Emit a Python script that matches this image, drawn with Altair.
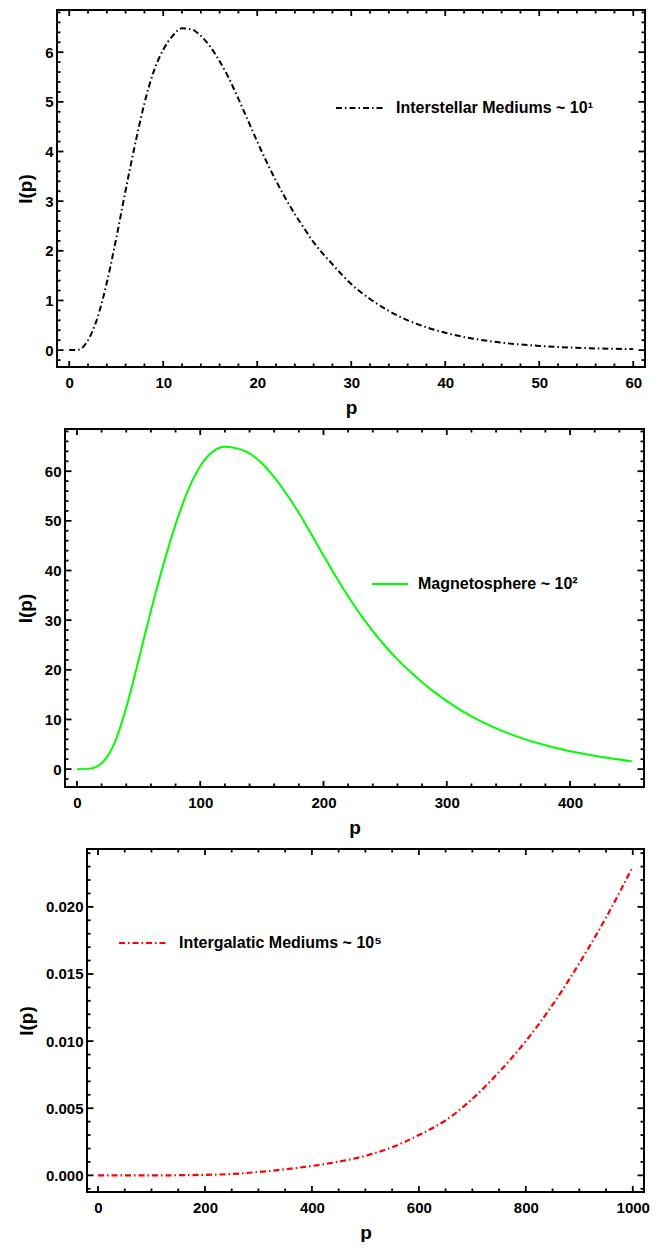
import altair as alt
import pandas as pd

FONT = "Liberation Sans"

# ---- Panel 1: Interstellar Mediums ----
p1 = [0, 1, 2, 3, 4, 5, 6, 7, 8, 9, 10, 11, 12, 13, 14, 15, 16, 17, 18, 19, 20,
      21, 22, 23, 24, 25, 26, 27, 28, 29, 30, 32, 34, 36, 38, 40, 43, 46, 50, 55, 60]
I1 = [0.0, 0.01, 0.2, 0.65, 1.36, 2.25, 3.22, 4.14, 4.97, 5.62, 6.05, 6.33, 6.48,
      6.46, 6.33, 6.11, 5.82, 5.47, 5.06, 4.63, 4.2, 3.79, 3.41, 3.06, 2.74, 2.45,
      2.17, 1.94, 1.73, 1.52, 1.33, 1.03, 0.79, 0.6, 0.46, 0.35, 0.23, 0.15, 0.085,
      0.04, 0.02]

# ---- Panel 2: Magnetosphere ----
p2 = [0, 10, 20, 30, 40, 50, 60, 70, 80, 90, 100, 110, 120, 130, 140, 150, 160,
      170, 180, 190, 200, 210, 220, 230, 240, 250, 260, 270, 280, 290, 300, 320,
      340, 360, 380, 400, 425, 450]
I2 = [0.0, 0.1, 1.2, 5.0, 12.4, 22.0, 31.9, 41.1, 49.3, 56.1, 61.0, 63.9, 64.95,
      64.6, 63.6, 61.6, 58.8, 55.4, 51.6, 47.4, 43.0, 38.8, 34.8, 31.1, 27.8, 24.8,
      22.1, 19.7, 17.5, 15.5, 13.7, 10.6, 8.2, 6.3, 4.8, 3.6, 2.5, 1.6]

# ---- Panel 3: Intergalatic Mediums ----
p3 = [0, 100, 200, 250, 300, 350, 400, 450, 500, 550, 600, 650, 700, 750, 800,
      850, 900, 950, 1000]
I3 = [0.0, 0.0, 0.00004, 0.0001, 0.00025, 0.00045, 0.0007, 0.00102, 0.00145,
      0.0021, 0.003, 0.0041, 0.0057, 0.0077, 0.0100, 0.0127, 0.0158, 0.0192, 0.023]

# tick values
x1_major = [0, 10, 20, 30, 40, 50, 60]
y1_major = [0, 1, 2, 3, 4, 5, 6]
x2_major = [0, 100, 200, 300, 400]
y2_major = [0, 10, 20, 30, 40, 50, 60]
x3_major = [0, 200, 400, 600, 800, 1000]
y3_major = [0.0, 0.005, 0.010, 0.015, 0.020]


def minors(start, stop, step, majors):
    out = []
    n = int(round((stop - start) / step))
    for k in range(n + 1):
        v = round(start + k * step, 6)
        if all(abs(v - m) > step * 0.01 for m in majors):
            out.append(v)
    return out


x1_minor = minors(0, 60, 2, x1_major)
y1_minor = minors(-0.2, 6.8, 0.2, y1_major)
x2_minor = minors(0, 440, 20, x2_major)
y2_minor = minors(-2, 68, 2, y2_major)
x3_minor = minors(0, 1000, 50, x3_major)
y3_minor = minors(-0.001, 0.024, 0.001, y3_major)

GW = 588          # group width shared by all panels
TICK_W = 1.8


def panel(p, I, xdom, ydom, r0, H, xmaj, xmin, ymaj, ymin, yfmt, color, dash,
          lw, leg, label):
    r1 = GW - 1 if r0 > 0 else GW
    xs = alt.Scale(domain=xdom, range=[r0, r1], nice=False, zero=False)
    ys = alt.Scale(domain=ydom, nice=False, zero=False)
    df = pd.DataFrame({"p": p, "I": I})
    mk = dict(color=color, strokeWidth=lw, interpolate="monotone")
    if dash:
        mk["strokeDash"] = dash
    yax = dict(values=ymaj, title="I(p)", format=yfmt)
    if r0 > 0:
        yax["offset"] = {"expr": str(-r0)}
    line = alt.Chart(df).mark_line(**mk).encode(
        x=alt.X("p:Q", scale=xs,
                axis=alt.Axis(values=xmaj, title="p", format="d")),
        y=alt.Y("I:Q", scale=ys, axis=alt.Axis(**yax)),
    )
    layers = [line]
    for vals, L in [(xmaj, 6), (xmin, 3.5)]:
        d = pd.DataFrame({"p": vals})
        base = alt.Chart(d).mark_rule(color="black", strokeWidth=TICK_W)
        xe = alt.X("p:Q", scale=xs)
        layers.append(base.encode(x=xe, y=alt.value(H), y2=alt.value(H - L)))
        layers.append(base.encode(x=xe, y=alt.value(0), y2=alt.value(L)))
    for vals, L in [(ymaj, 6.5), (ymin, 3.5)]:
        d = pd.DataFrame({"I": vals})
        base = alt.Chart(d).mark_rule(color="black", strokeWidth=TICK_W)
        ye = alt.Y("I:Q", scale=ys)
        layers.append(base.encode(y=ye, x=alt.value(r0), x2=alt.value(r0 + L)))
        layers.append(base.encode(y=ye, x=alt.value(r1), x2=alt.value(r1 - L)))
    one = pd.DataFrame({"k": [0]})
    fr = alt.Chart(one).mark_rule(color="black", strokeWidth=2)
    layers += [
        fr.encode(x=alt.value(r0), y=alt.value(0), y2=alt.value(H)),
        fr.encode(x=alt.value(r1), y=alt.value(0), y2=alt.value(H)),
        fr.encode(y=alt.value(0), x=alt.value(r0 - 1), x2=alt.value(r1 + 1)),
        fr.encode(y=alt.value(H), x=alt.value(r0 - 1), x2=alt.value(r1 + 1)),
    ]
    lx1, lx2, ly, tx = leg
    rk = dict(color=color, strokeWidth=lw)
    if dash:
        rk["strokeDash"] = dash
    layers.append(alt.Chart(one).mark_rule(**rk).encode(
        x=alt.value(lx1), x2=alt.value(lx2), y=alt.value(ly)))
    layers.append(alt.Chart(one).mark_text(
        align="left", baseline="middle", font=FONT, fontWeight="bold",
        fontSize=16, color="black").encode(
        x=alt.value(tx), y=alt.value(ly), text=alt.value(label)))
    return alt.layer(*layers).properties(width=GW, height=H)


DASH = [6, 3, 1.5, 3]

c1 = panel(p1, I1, [-1.3, 61.25], [-0.34, 6.85], 0, 357,
           x1_major, x1_minor, y1_major, y1_minor, "d", "black", DASH, 2,
           (279, 326, 98, 339), "Interstellar Mediums ~ 10\u00b9")
c2 = panel(p2, I2, [-9.7, 460], [-3.6, 68.5], 8, 358,
           x2_major, x2_minor, y2_major, y2_minor, "d", "#00ff00", None, 2,
           (315, 351, 155, 361), "Magnetosphere ~ 10\u00b2")
c3 = panel(p3, I3, [-20.6, 1021], [-0.00124, 0.02431], 30, 343,
           x3_major, x3_minor, y3_major, y3_minor, ".3f", "#ff0000", DASH, 2.2,
           (62, 109, 94, 122), "Intergalatic Mediums ~ 10\u2075")

chart = alt.vconcat(c1, c2, c3, spacing=11).properties(
    padding={"left": 8, "top": 1, "right": 5, "bottom": 0},
).configure_view(
    stroke="transparent", strokeWidth=0
).configure_axis(
    labelFont=FONT, titleFont=FONT, labelFontWeight="bold",
    titleFontWeight="bold", labelFontSize=15, titleFontSize=19,
    labelColor="black", titleColor="black", ticks=False, domain=False,
    grid=False, minExtent=0, labelFlush=False,
).configure_axisX(labelPadding=8, titlePadding=8).configure_axisY(
    labelPadding=4, titlePadding=9)

chart.save("out.html", embed_options={"renderer": "svg", "actions": False})
